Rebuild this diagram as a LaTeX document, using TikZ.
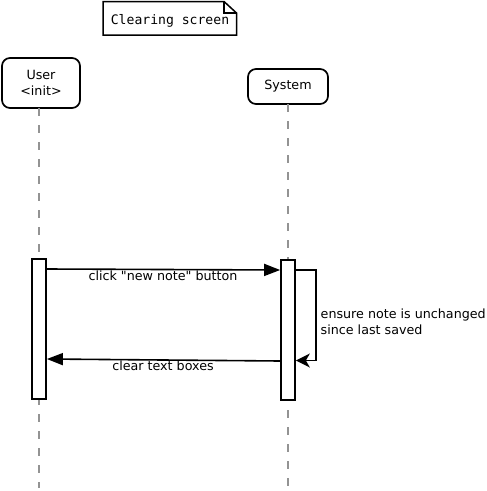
\documentclass[tikz,border=0pt]{standalone}
\usepackage{fontspec}
\setmainfont{DejaVu Sans}[Ligatures=TeXOff]
\setsansfont{DejaVu Sans}[Ligatures=TeXOff]
\setmonofont{DejaVu Sans Mono}
\usetikzlibrary{arrows.meta}
\tikzset{
  lbl/.style={font=\fontsize{12.7}{15.5}\selectfont, inner sep=0pt},
  actor/.style={draw=black, line width=1.7pt, rounded corners=8pt, fill=white, lbl, align=center},
  actbox/.style={draw=black, line width=1.7pt, fill=white, minimum width=14pt, inner sep=0pt},
  lifeline/.style={draw=gray!85, line width=2pt, dash pattern=on 8pt off 9pt},
  msg/.style={draw=black, line width=1.6pt, -{Triangle[length=16pt,width=12pt]}},
  selfmsg/.style={draw=black, line width=1.6pt, -{Stealth[length=14pt,width=14pt,inset=4pt]}},
}
\begin{document}
\begin{tikzpicture}[x=1pt,y=-1pt]
\useasboundingbox (0,0) rectangle (487,491);
% note
\draw[line width=1.5pt, fill=white] (103,1.5) -- (224,1.5) -- (236.5,13) -- (236.5,35) -- (103,35) -- cycle;
\draw[line width=1.1pt] (224,1.5) -- (224,13) -- (236.5,13);
\node[font=\fontsize{13.1}{15}\ttfamily, inner sep=0pt] (note) at (170,21) {Clearing screen};
% actors
\node[actor, minimum width=78pt, minimum height=50pt] (user) at (41,83) {User\\<init>};
\node[actor, minimum width=80pt, minimum height=35pt] (sys) at (288,86.5) {System};
% lifelines
\coordinate (uend) at (39,488);
\coordinate (send) at (288,488);
\draw[lifeline] (39,108) -- (uend);
\draw[lifeline] (288,104) -- (send);
% activations
\node[actbox, minimum height=140pt] (uact) at (39,329) {};
\node[actbox, minimum height=140pt] (sact) at (288,330) {};
% messages
\draw[msg] (uact.east |- 0,269) -- (sact.west |- 0,270);
\node[lbl] (m1) at (163,276) {click "new note" button};
\draw[selfmsg] (sact.east |- 0,270) -- (316,270) -- (316,360.5) -- (sact.east |- 0,360.5);
\node[lbl, anchor=west, align=left] (m2) at (320.5,322) {ensure note is unchanged\\since last saved};
\draw[msg] (sact.west |- 0,361) -- (uact.east |- 0,359);
\node[lbl] (m3) at (163,366) {clear text boxes};
\end{tikzpicture}
\end{document}
